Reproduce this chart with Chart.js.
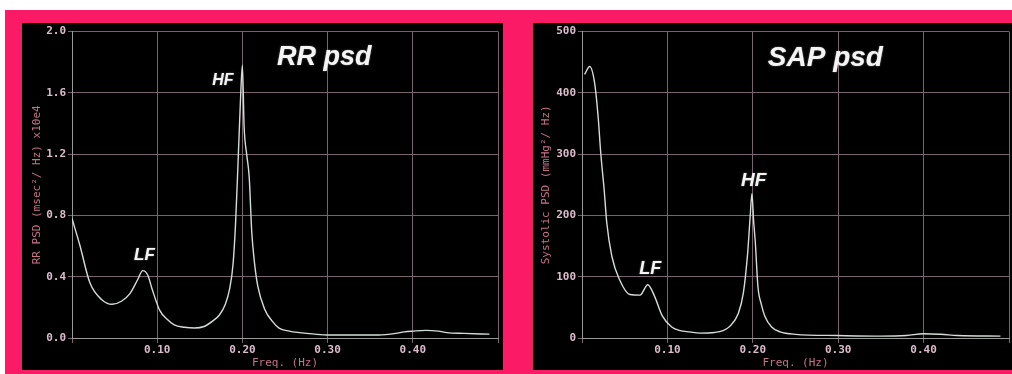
<!DOCTYPE html>
<html>
<head>
<meta charset="utf-8">
<script src="https://cdn.jsdelivr.net/npm/chart.js@4.4.1/dist/chart.umd.min.js"></script>
<style>
  html, body { margin: 0; padding: 0; background: #ffffff; }
  body { width: 1012px; height: 374px; position: relative; overflow: hidden; }
  #pink { position: absolute; left: 5px; top: 10px; width: 1007px; height: 364px; background: #fa1a66; }
  .panel { position: absolute; top: 23px; height: 347px; background: #000; }
  #p1 { left: 22px; width: 481px; }
  #p2 { left: 533px; width: 479px; }
  canvas { display: block; }
</style>
</head>
<body>
<div id="pink"></div>
<div class="panel" id="p1"><canvas id="c1" width="481" height="347"></canvas></div>
<div class="panel" id="p2"><canvas id="c2" width="479" height="347"></canvas></div>
<script>
// ---- Data ----
const rrFreq = [0, 0.009, 0.021, 0.035, 0.047, 0.058, 0.068, 0.077, 0.083, 0.089, 0.094, 0.103, 0.112, 0.12, 0.132, 0.144, 0.155, 0.165, 0.173, 0.18, 0.185, 0.189, 0.192, 0.195, 0.198, 0.200, 0.202, 0.205, 0.208, 0.211, 0.214, 0.218, 0.226, 0.235, 0.243, 0.255, 0.267, 0.285, 0.30, 0.33, 0.36, 0.38, 0.39, 0.40, 0.415, 0.43, 0.44, 0.46, 0.49];
const rrPsd  = [0.78, 0.61, 0.36, 0.25, 0.22, 0.24, 0.29, 0.38, 0.44, 0.41, 0.32, 0.18, 0.12, 0.085, 0.07, 0.065, 0.075, 0.11, 0.15, 0.22, 0.32, 0.48, 0.75, 1.16, 1.59, 1.78, 1.38, 1.2, 1.05, 0.69, 0.5, 0.34, 0.19, 0.11, 0.065, 0.045, 0.035, 0.025, 0.02, 0.02, 0.02, 0.03, 0.04, 0.045, 0.05, 0.045, 0.035, 0.03, 0.025];

const sapFreq = [0.003, 0.009, 0.015, 0.019, 0.022, 0.026, 0.029, 0.035, 0.044, 0.056, 0.068, 0.077, 0.085, 0.094, 0.105, 0.115, 0.126, 0.138, 0.155, 0.165, 0.173, 0.183, 0.189, 0.194, 0.197, 0.199, 0.201, 0.203, 0.206, 0.21, 0.214, 0.222, 0.232, 0.25, 0.3, 0.35, 0.38, 0.40, 0.42, 0.44, 0.49];
const sapPsd  = [430, 443, 414, 359, 301, 241, 188, 133, 95, 71, 70, 87, 68, 36, 18, 12, 10, 8, 9, 12, 19, 40, 74, 139, 200, 236, 190, 155, 84, 55, 36, 18, 10, 6, 4, 3, 4, 7, 6, 4, 3];

const xTickValues = [0.10, 0.20, 0.30, 0.40];
const rrTitles  = { y: 'RR PSD (msec²/ Hz) x10e4', x: 'Freq. (Hz)' };
const sapTitles = { y: 'Systolic PSD (mmHg²/ Hz)', x: 'Freq. (Hz)' };
const rrNotes  = [['RR psd', 0.296, 1.83], ['HF', 0.177, 1.68], ['LF', 0.085, 0.54]];
const sapNotes = [['SAP psd', 0.285, 456], ['HF', 0.201, 257], ['LF', 0.080, 112]];

// ---- Styles ----
const GRID = '#7a6270';
const TICKCOL = '#dcbccc';
const TITLECOL = '#c8708f';
const LINECOL = '#d4ded8';
const MONO = '"DejaVu Sans Mono", monospace';

const notesPlugin = {
  id: 'notes',
  afterDatasetsDraw(chart, args, opts) {
    const ctx = chart.ctx;
    const xs = chart.scales.x, ys = chart.scales.y;
    ctx.save();
    ctx.fillStyle = '#f4f4f4';
    ctx.textAlign = 'center';
    ctx.textBaseline = 'middle';
    ctx.shadowColor = 'rgba(255,255,255,0.45)';
    ctx.shadowBlur = 2;
    opts.items.forEach((it, i) => {
      const size = opts.sizes[i];
      ctx.font = 'italic bold ' + size + 'px "Liberation Sans", Arial, sans-serif';
      ctx.fillText(it[0], xs.getPixelForValue(it[1]), ys.getPixelForValue(it[2]));
    });
    ctx.restore();
  }
};

function makeChart(id, freq, vals, yMax, yStep, yDigits, titles, notes, sizes, yW, rightPad, yTitlePad) {
  const pts = freq.map((f, i) => ({ x: f, y: vals[i] }));
  return new Chart(document.getElementById(id), {
    type: 'line',
    data: { datasets: [{ data: pts, borderColor: LINECOL, borderWidth: 1.4, pointRadius: 0, cubicInterpolationMode: 'monotone', fill: false }] },
    options: {
      responsive: false,
      animation: false,
      devicePixelRatio: 1,
      layout: { padding: { top: 6, right: rightPad, left: 0, bottom: 0 } },
      plugins: { legend: { display: false }, tooltip: { enabled: false }, notes: { items: notes, sizes: sizes } },
      scales: {
        x: {
          type: 'linear', min: 0, max: 0.5,
          afterFit: s => { s.height = 32; },
          afterBuildTicks: s => { s.ticks = [0, ...xTickValues, 0.5].map(v => ({ value: v })); },
          grid: { color: GRID, lineWidth: 1, tickLength: 5, tickColor: GRID },
          border: { color: '#9a9a9a', width: 1 },
          ticks: { color: TICKCOL, font: { family: MONO, size: 11, weight: 'bold' }, padding: 1, maxRotation: 0, autoSkip: false,
                   callback: v => (v > 0.001 && v < 0.499) ? Number(v).toFixed(2) : '' },
          title: { display: true, text: titles.x, color: TITLECOL, font: { family: MONO, size: 11 }, padding: { top: 0, bottom: 0 } }
        },
        y: {
          type: 'linear', min: 0, max: yMax,
          afterFit: s => { s.width = yW; },
          grid: { color: GRID, lineWidth: 1, tickLength: 4, tickColor: GRID },
          border: { color: '#9a9a9a', width: 1 },
          ticks: { stepSize: yStep, color: TICKCOL, font: { family: MONO, size: 11, weight: 'bold' }, padding: 2,
                   callback: v => Number(v).toFixed(yDigits) },
          title: { display: true, text: titles.y, color: TITLECOL, font: { family: MONO, size: 11 }, padding: { top: yTitlePad, bottom: 0 } }
        }
      }
    },
    plugins: [notesPlugin]
  });
}

makeChart('c1', rrFreq, rrPsd, 2.0, 0.4, 1, rrTitles, rrNotes, [27, 16, 17], 50, 5, 9);
makeChart('c2', sapFreq, sapPsd, 500, 100, 0, sapTitles, sapNotes, [28, 19, 18], 49, 3, 7);
</script>
</body>
</html>
